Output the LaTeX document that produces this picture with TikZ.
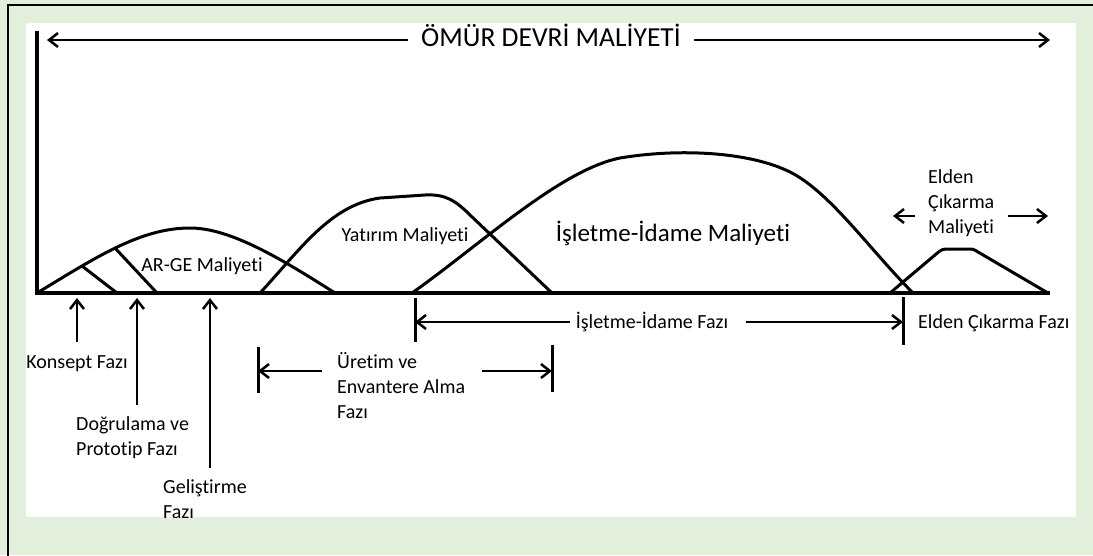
\documentclass[tikz,border=0pt]{standalone}
\usepackage{fontspec}
\setmainfont{Carlito}[Ligatures=NoCommon]
\definecolor{lcbg}{HTML}{E2EFDA}
\usetikzlibrary{arrows.meta, positioning}

\begin{document}
\begin{tikzpicture}[x=10pt, y=-10pt,
  axis/.style={line width=4pt},
  curve/.style={line width=3pt, line join=round},
  arr/.style={line width=2.5pt, -{Straight Barb[length=9pt, width=14pt]}},
  tickbar/.style={line width=3pt},
  lbl/.style={font=\fontsize{20}{25}\selectfont, inner sep=0pt, text height=14pt, text depth=4pt},
  mlbl/.style={font=\fontsize{20}{25}\selectfont, inner sep=0pt, align=left, anchor=north west},
]
  % Frame
  \useasboundingbox (0,0) rectangle (109.3,55.5);
  \fill[lcbg] (0,0) rectangle (109.3,55.5);
  \draw[line width=2pt] (0.8,56) -- (0.8,0.5) -- (110,0.5);
  \fill[white] (2.6,2.3) rectangle (107.6,51.7);

  \begin{scope}
  \clip (2.6,2.3) rectangle (107.6,51.7);

  % Axes
  \draw[axis] (3.7,3.1) -- (3.7,29.5);
  \draw[axis] (3.5,29.3) -- (105,29.3);

  % Title
  \node[font=\fontsize{27.5}{32}\selectfont, inner xsep=13pt, inner ysep=0pt] (title) at (55.1,3.5) {ÖMÜR DEVRİ MALİYETİ};
  \coordinate (titleL) at (4.7,4.0);
  \coordinate (titleR) at (105,4.0);
  \draw[arr] (title.west |- titleL) -- (titleL);
  \draw[arr] (title.east |- titleR) -- (titleR);

  % Cost curves
  \draw[curve] (3.7,29.3) .. controls (9.5,25.8) and (14,22.8) .. (19,22.8)
    .. controls (23,22.8) and (28,25.8) .. (33.5,29.3);
  \draw[curve] (8.2,26.6) -- (11.7,29.3);
  \draw[curve] (11.5,24.8) -- (15.7,29.3);
  \draw[curve] (26,29.3) .. controls (30,25) and (33,20.5) .. (38,19.8)
    -- (42.5,19.5) .. controls (44.5,19.4) and (45.5,20) .. (47,21.5) -- (55.2,29.3);
  \draw[curve] (41.2,29.3) .. controls (48,24.5) and (56,17) .. (62,15.8)
    .. controls (68,14.8) and (75,15.2) .. (79,17.2)
    .. controls (83,19.2) and (87,25) .. (91.3,29.3);
  \draw[curve] (89,29.3) -- (93.5,25.5) .. controls (94.2,24.9) .. (95,24.9)
    -- (96.8,24.9) .. controls (97.3,24.9) .. (97.8,25.2) -- (104.8,29.3);

  % Cost labels
  \node[lbl] (arge) at (20.2,26.6) {AR-GE Maliyeti};
  \node[lbl] (yatirim) at (40.5,23.6) {Yatırım Maliyeti};
  \node[lbl, font=\fontsize{25}{30}\selectfont, text height=18pt, text depth=5pt] (isletme) at (67.3,23.45) {İşletme-İdame Maliyeti};
  \node[mlbl] (elden) at (92.8,16.6) {\strut Elden\\Çıkarma\\Maliyeti};
  \coordinate (eldenL) at (89.3,21.6);
  \coordinate (eldenR) at (104.8,21.6);
  \draw[arr] ([xshift=-13pt]elden.west |- eldenL) -- (eldenL);
  \draw[arr] ([xshift=13pt]elden.east |- eldenR) -- (eldenR);

  % Phase labels
  \node[lbl] (konsept) at (7.7,36.3) {Konsept Fazı};
  \node[mlbl] (dogrulama) at (7.6,41.3) {\strut Doğrulama ve\\Prototip Fazı};
  \node[mlbl] (gelistirme) at (16.3,47.6) {\strut Geliştirme\\Fazı};
  \coordinate (konseptS) at (7.7,34.2);
  \coordinate (konseptT) at (7.7,29.8);
  \coordinate (dogrulamaS) at (13.7,40.5);
  \coordinate (dogrulamaT) at (13.7,29.8);
  \coordinate (gelistirmeS) at (21.0,46.8);
  \coordinate (gelistirmeT) at (21.0,29.8);
  \draw[arr] (konseptS) -- (konseptT);
  \draw[arr] (dogrulamaS) -- (dogrulamaT);
  \draw[arr] (gelistirmeS) -- (gelistirmeT);

  % Phase spans
  \node[mlbl] (uretim) at (33.7,35.1) {\strut Üretim ve\\Envantere Alma\\Fazı};
  \coordinate (uretimL) at (25.8,37.1);
  \coordinate (uretimR) at (55.2,37.1);
  \draw[tickbar] (25.8,34.7) -- (25.8,39.3);
  \draw[tickbar] (55.2,34.5) -- (55.2,39.2);
  \draw[arr] (32.2,37.1) -- (uretimL);
  \draw[arr] (48.2,37.1) -- (uretimR);

  \node[lbl] (isletmeF) at (65.2,32.35) {İşletme-İdame Fazı};
  \coordinate (isletmeL) at (41.5,32.2);
  \coordinate (isletmeR) at (90.3,32.2);
  \draw[tickbar] (41.5,29.8) -- (41.5,34.2);
  \draw[tickbar] (90.3,29.7) -- (90.3,34.5);
  \draw[arr] ([xshift=-6pt]isletmeF.west |- isletmeL) -- (isletmeL);
  \draw[arr] ([xshift=18pt]isletmeF.east |- isletmeR) -- (isletmeR);

  \node[lbl, anchor=west] (eldenF) at (91.8,32.35) {Elden Çıkarma Fazı};
  \end{scope}
\end{tikzpicture}
\end{document}
